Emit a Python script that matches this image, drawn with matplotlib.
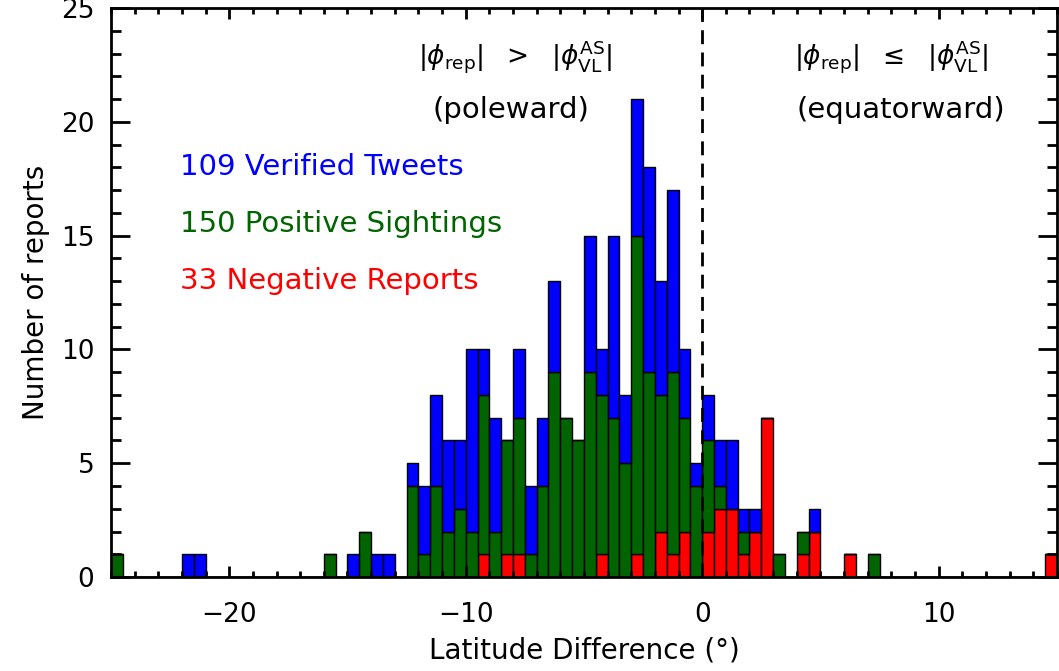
import numpy as np
import matplotlib
matplotlib.use('Agg')
import matplotlib.pyplot as plt
from matplotlib.ticker import MultipleLocator

# 0.5 deg bins from -25 to 15 (80 bins), counts
bin_edges = np.arange(-25, 15.01, 0.5)

negative = [0, 0, 0, 0, 0, 0, 0, 0, 0, 0,
            0, 0, 0, 0, 0, 0, 0, 0, 0, 0,
            0, 0, 0, 0, 0, 0, 0, 0, 0, 0,
            0, 1, 0, 1, 1, 0, 0, 0, 0, 0,
            0, 1, 0, 0, 1, 0, 2, 1, 2, 0,
            2, 3, 3, 1, 2, 7, 0, 0, 1, 2,
            0, 0, 1, 0, 0, 0, 0, 0, 0, 0,
            0, 0, 0, 0, 0, 0, 0, 0, 0, 1]

positive = [1, 0, 0, 0, 0, 0, 0, 0, 0, 0,
            0, 0, 0, 0, 0, 0, 0, 0, 1, 0,
            0, 2, 0, 0, 0, 4, 1, 4, 2, 3,
            2, 7, 2, 5, 6, 1, 4, 9, 7, 6,
            9, 7, 7, 5, 14, 9, 6, 8, 5, 4,
            4, 1, 0, 1, 0, 0, 1, 0, 1, 0,
            0, 0, 0, 0, 1, 0, 0, 0, 0, 0,
            0, 0, 0, 0, 0, 0, 0, 0, 0, 0]

tweets = [0, 0, 0, 0, 0, 0, 1, 1, 0, 0,
          0, 0, 0, 0, 0, 0, 0, 0, 0, 0,
          1, 0, 1, 1, 0, 1, 3, 4, 4, 3,
          8, 2, 5, 0, 3, 3, 3, 4, 0, 0,
          6, 2, 8, 3, 6, 9, 5, 8, 3, 1,
          2, 2, 3, 1, 1, 0, 0, 0, 0, 1,
          0, 0, 0, 0, 0, 0, 0, 0, 0, 0,
          0, 0, 0, 0, 0, 0, 0, 0, 0, 0]

labels = ['%d Verified Tweets' % sum(tweets),
          '%d Positive Sightings' % sum(positive),
          '%d Negative Reports' % sum(negative)]

blue = '#0000ff'
green = '#006400'
red = '#ff0000'

plt.rcParams['font.family'] = ['DejaVu Sans']
plt.rcParams['mathtext.fontset'] = 'dejavusans'

fig = plt.figure(figsize=(10.59, 6.71), dpi=100)
ax = fig.add_axes([0.1048, 0.140, 0.8932, 0.848])

left = bin_edges[:-1]
neg = np.array(negative)
pos = np.array(positive)
twt = np.array(tweets)

ax.bar(left, neg, width=0.5, align='edge', color=red, edgecolor='black', linewidth=1)
ax.bar(left, pos, bottom=neg, width=0.5, align='edge', color=green, edgecolor='black', linewidth=1)
ax.bar(left, twt, bottom=neg + pos, width=0.5, align='edge', color=blue, edgecolor='black', linewidth=1)

ax.plot([0, 0], [0, 25], color='black', linestyle=(0, (5, 3)), linewidth=2)

ax.set_xlim(-25, 15)
ax.set_ylim(0, 25)
ax.xaxis.set_major_locator(MultipleLocator(10))
ax.xaxis.set_minor_locator(MultipleLocator(1))
ax.yaxis.set_major_locator(MultipleLocator(5))
ax.yaxis.set_minor_locator(MultipleLocator(1))
ax.tick_params(axis='both', which='both', direction='in', top=True, right=True,
               labelsize=19, width=2)
ax.tick_params(axis='x', which='major', length=8, pad=18)
ax.tick_params(axis='x', which='minor', length=4)
ax.tick_params(axis='y', which='major', length=14, pad=12)
ax.tick_params(axis='y', which='minor', length=7)
for s in ax.spines.values():
    s.set_linewidth(2)

ax.set_xlabel('Latitude Difference (\u00b0)', fontsize=20, labelpad=6)
ax.set_ylabel('Number of reports', fontsize=20, labelpad=8)

ax.text(-7.9, 22.85, r'$|\phi_{\rm rep}|\ \ >\ \ |\phi^{\rm AS}_{\rm VL}|$',
        fontsize=19, ha='center', va='center')
ax.text(-8.1, 20.5, '(poleward)', fontsize=21, ha='center', va='center')
ax.text(8.0, 22.85, r'$|\phi_{\rm rep}|\ \ \leq\ \ |\phi^{\rm AS}_{\rm VL}|$',
        fontsize=19, ha='center', va='center')
ax.text(8.4, 20.5, '(equatorward)', fontsize=21, ha='center', va='center')

ax.text(-22.1, 18.0, labels[0], color=blue, fontsize=21, va='center')
ax.text(-22.1, 15.5, labels[1], color=green, fontsize=21, va='center')
ax.text(-22.1, 13.0, labels[2], color=red, fontsize=21, va='center')

fig.savefig('out.png', dpi=100)
